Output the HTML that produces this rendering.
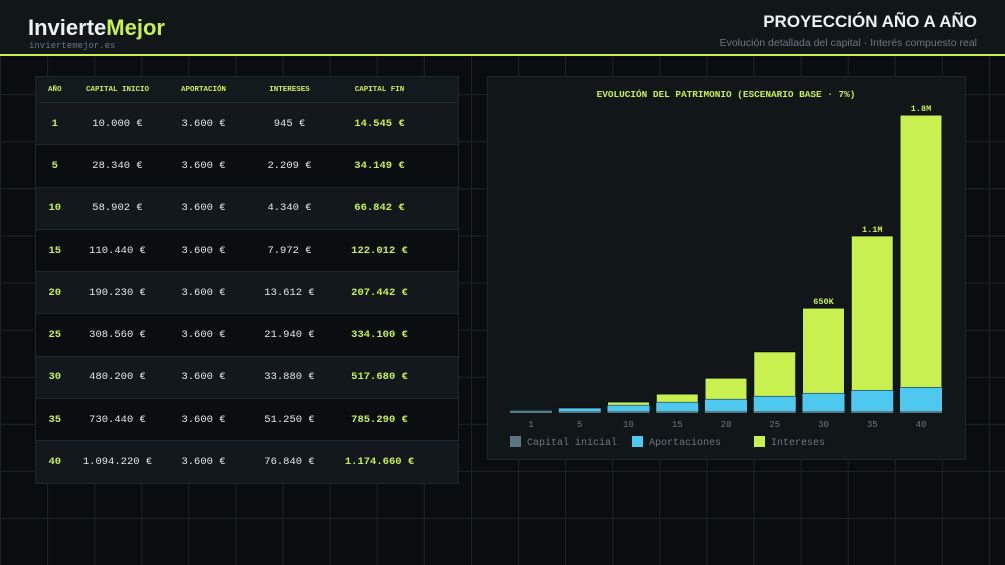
<!DOCTYPE html>
<html><head><meta charset="utf-8"><style>
*{margin:0;padding:0;box-sizing:border-box}
body{width:1005px;height:565px;overflow:hidden;background:#0a0d0f;position:relative;font-family:"Liberation Sans",sans-serif;
background-image:linear-gradient(#1c2326 1px,transparent 1px),linear-gradient(90deg,#1c2326 1px,transparent 1px);background-size:47.1px 47.1px;background-position:0 0}
.hdr{position:absolute;left:0;top:0;width:1005px;height:56px;background:#111619;border-bottom:2px solid #c8f04e}
.logo{position:absolute;left:28px;top:15px;font-size:22px;font-weight:bold;color:#eef1f2}
.logo span{color:#c8f04e}
.site{position:absolute;left:29px;top:41px;font-family:"Liberation Mono",monospace;font-size:9px;color:#6b787e}
.title{position:absolute;right:28px;top:12px;font-size:17px;font-weight:bold;color:#eef1f2}
.sub{position:absolute;right:28px;top:37px;font-size:10.5px;color:#6b787e}
table{position:absolute;left:35px;top:76px;width:424px;border-collapse:collapse;font-family:"Liberation Mono",monospace;border:1px solid #1f272a}
td,th{text-align:center;font-size:10.5px;color:#e3e7e8}
th{height:26px;font-size:7.5px;color:#c8f04e;font-weight:bold;background:#131a1d}
tr.r td{height:42.3px;border-top:1px solid #1f272a}
tr.r:nth-child(even) td{background:#12181b}
tr.r:nth-child(odd) td{background:#0b0e10}
td.y{color:#c8f04e;font-weight:bold}
td.f{color:#c8f04e;font-weight:bold}
.panel{position:absolute;left:487px;top:76px;width:479px;height:384px;background:#111619;border:1px solid #1f272a}
</style></head><body>
<div class="hdr">
<div class="logo">Invierte<span>Mejor</span></div>
<div class="site">inviertemejor.es</div>
<div class="title">PROYECCIÓN AÑO A AÑO</div>
<div class="sub">Evolución detallada del capital · Interés compuesto real</div>
</div>
<table>
<tr><th style="width:38px">AÑO</th><th style="width:88px">CAPITAL INICIO</th><th style="width:84px">APORTACIÓN</th><th style="width:88px">INTERESES</th><th style="width:92px">CAPITAL FIN</th><th></th></tr>
<tr class="r"><td class="y">1</td><td>10.000 €</td><td>3.600 €</td><td>945 €</td><td class="f">14.545 €</td><td></td></tr>
<tr class="r"><td class="y">5</td><td>28.340 €</td><td>3.600 €</td><td>2.209 €</td><td class="f">34.149 €</td><td></td></tr>
<tr class="r"><td class="y">10</td><td>58.902 €</td><td>3.600 €</td><td>4.340 €</td><td class="f">66.842 €</td><td></td></tr>
<tr class="r"><td class="y">15</td><td>110.440 €</td><td>3.600 €</td><td>7.972 €</td><td class="f">122.012 €</td><td></td></tr>
<tr class="r"><td class="y">20</td><td>190.230 €</td><td>3.600 €</td><td>13.612 €</td><td class="f">207.442 €</td><td></td></tr>
<tr class="r"><td class="y">25</td><td>308.560 €</td><td>3.600 €</td><td>21.940 €</td><td class="f">334.100 €</td><td></td></tr>
<tr class="r"><td class="y">30</td><td>480.200 €</td><td>3.600 €</td><td>33.880 €</td><td class="f">517.680 €</td><td></td></tr>
<tr class="r"><td class="y">35</td><td>730.440 €</td><td>3.600 €</td><td>51.250 €</td><td class="f">785.290 €</td><td></td></tr>
<tr class="r"><td class="y">40</td><td>1.094.220 €</td><td>3.600 €</td><td>76.840 €</td><td class="f">1.174.660 €</td><td></td></tr>
</table>
<div class="panel"></div>
<svg id="chart" width="1005" height="565" style="position:absolute;left:0;top:0"></svg>
<script>
const years=["1","5","10","15","20","25","30","35","40"];
const capital=[10000,10000,10000,10000,10000,10000,10000,10000,10000];
const aportaciones=[3600,18000,36000,54000,72000,90000,108000,126000,144000];
const totals=[14545,34149,66842,115000,211000,370000,634000,1070000,1800000];
const topLabels=["","","","","","","650K","1.1M","1.8M"];
const svg=document.getElementById('chart');
const NS='http://www.w3.org/2000/svg';
const base=413, maxV=1800000, hPx=298, x0=510, slot=48.75, bw=42;
const y=v=>v/maxV*hPx;
const xs=i=>x0+i*slot;
function mk(t,a){const e=document.createElementNS(NS,t);for(const k in a)e.setAttribute(k,a[k]);svg.appendChild(e);return e;}
let t=mk('text',{x:726,y:97,'text-anchor':'middle','font-family':'Liberation Mono,monospace','font-size':'9.4','font-weight':'bold',fill:'#c8f04e'});
t.textContent='EVOLUCIÓN DEL PATRIMONIO (ESCENARIO BASE · 7%)';


years.forEach((yr,i)=>{
  const c=y(capital[i]),a=y(aportaciones[i]),tot=y(totals[i]);
  const intr=Math.max(0,tot-c-a);
  let r=mk('rect',{x:xs(i),y:base-tot,width:bw,height:intr,fill:'#c8f04e',stroke:'#0a0d0f','stroke-width':1});
  
  
  r=mk('rect',{x:xs(i),y:base-c-a,width:bw,height:a,fill:'#4ec8ee'});
  
  
  r=mk('rect',{x:xs(i),y:base-c,width:bw,height:c,fill:'#5b7680'});
  
  
  let l=mk('text',{x:xs(i)+bw/2,y:427,'text-anchor':'middle','font-family':'Liberation Mono,monospace','font-size':'9',fill:'#6b787e'});
  l.textContent=yr;
  
  
  if(topLabels[i]){
    let v=mk('text',{x:xs(i)+bw/2,y:base-tot-4,'text-anchor':'middle','font-family':'Liberation Mono,monospace','font-size':'8.5','font-weight':'bold',fill:'#c8f04e'});
    v.textContent=topLabels[i];
    
    
  }
});
const legend=[["Capital inicial","#5b7680",510],["Aportaciones","#4ec8ee",632],["Intereses","#c8f04e",754]];
legend.forEach(([n,c,x])=>{
  let r=mk('rect',{x:x,y:436,width:11,height:11,fill:c});
  
  
  let tx=mk('text',{x:x+17,y:445,'font-family':'Liberation Mono,monospace','font-size':'10',fill:'#6b787e'});
  tx.textContent=n;
  
  
});
</script>
</body></html>
